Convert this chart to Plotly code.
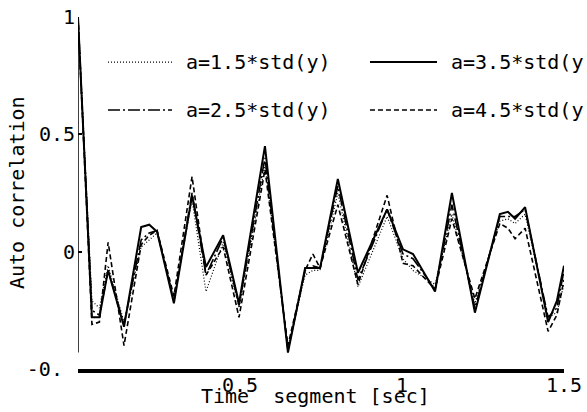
import plotly.graph_objects as go

# time lags [sec]
t = [0, 0.043, 0.066, 0.093, 0.142, 0.195, 0.22, 0.244, 0.296, 0.352, 0.395, 0.448,
     0.497, 0.577, 0.648, 0.701, 0.725, 0.747, 0.802, 0.864, 0.954, 1.003, 1.034,
     1.102, 1.154, 1.225, 1.302, 1.327, 1.349, 1.380, 1.451, 1.478, 1.5]

ac_15 = [1.0, -0.21, -0.24, -0.06, -0.30, 0.02, 0.05, 0.08, -0.20, 0.22, -0.17, 0.04,
         -0.24, 0.37, -0.41, -0.10, -0.08, -0.08, 0.25, -0.15, 0.15, -0.03, -0.08,
         -0.14, 0.16, -0.22, 0.13, 0.14, 0.12, 0.16, -0.28, -0.26, -0.14]
ac_25 = [1.0, -0.25, -0.27, -0.08, -0.31, 0.05, 0.08, 0.09, -0.21, 0.25, -0.10, 0.06,
         -0.23, 0.40, -0.42, -0.08, -0.06, -0.07, 0.28, -0.12, 0.18, -0.01, -0.03,
         -0.16, 0.20, -0.24, 0.15, 0.15, 0.15, 0.18, -0.28, -0.24, -0.08]
ac_35 = [1.0, -0.28, -0.28, -0.08, -0.32, 0.105, 0.115, 0.085, -0.22, 0.24, -0.065, 0.07,
         -0.22, 0.45, -0.43, -0.07, -0.07, -0.07, 0.31, -0.09, 0.18, 0.01, -0.01,
         -0.17, 0.25, -0.26, 0.16, 0.17, 0.14, 0.19, -0.30, -0.21, -0.06]
ac_45 = [1.0, -0.31, -0.30, 0.04, -0.40, 0.03, 0.07, 0.09, -0.19, 0.32, -0.10, 0.02,
         -0.28, 0.35, -0.40, -0.08, -0.01, -0.07, 0.20, -0.14, 0.24, -0.05, -0.06,
         -0.16, 0.14, -0.20, 0.12, 0.10, 0.055, 0.10, -0.34, -0.27, -0.12]

names = ["a=1.5*std(y)", "a=2.5*std(y)", "a=3.5*std(y)", "a=4.5*std(y)"]
series = [ac_15, ac_25, ac_35, ac_45]
dashes = ["1px,2px", "12px,3px,2px,3px", "solid", "5px,3px"]
widths = [1.2, 1.6, 2.0, 1.6]

yticks = [-0.5, 0, 0.5, 1]
yticktext = ["-0.<span style='color:white'>5</span>", "0", "0.5", "1"]
xticks = [0.5, 1, 1.5]
xticktext = ["0.5", "1", "1.5"]

FONT = "DejaVu Sans Mono"
FS = 20

fig = go.Figure()
for name, ys, d, w in zip(names, series, dashes, widths):
    fig.add_trace(go.Scatter(x=t, y=ys, mode="lines", name=name,
                             line=dict(color="black", width=w, dash=d),
                             showlegend=False, cliponaxis=False))

# y-axis line (stops short of the x axis as in the original)
fig.add_shape(type="line", xref="x", yref="y", x0=0, x1=0, y0=1, y1=-0.43,
              line=dict(color="black", width=1.5))

# manual 2x2 legend
leg_rows = [0.872, 0.736]
leg_cols = [(0.0617, 0.1934, 0.2180), (0.6008, 0.7387, 0.7633)]
order = [(0, 0, 0), (1, 1, 0), (2, 0, 1), (3, 1, 1)]
for idx, r, c in order:
    x0, x1, xt = leg_cols[c]
    y = leg_rows[r]
    fig.add_shape(type="line", xref="paper", yref="paper", x0=x0, x1=x1, y0=y, y1=y,
                  line=dict(color="black", width=widths[idx], dash=dashes[idx]))
    fig.add_annotation(xref="paper", yref="paper", x=xt, y=y, text=names[idx],
                       showarrow=False, xanchor="left", yanchor="middle",
                       font=dict(family=FONT, size=FS, color="black"))

fig.add_annotation(xref="paper", yref="paper", x=0.488, y=-0.077,
                   text="Time  segment [sec]", showarrow=False,
                   xanchor="center", yanchor="middle",
                   font=dict(family=FONT, size=FS, color="black"))
fig.add_annotation(xref="paper", yref="paper", x=-0.1255, y=0.5,
                   text="Auto correlation", showarrow=False, textangle=-90,
                   xanchor="center", yanchor="middle",
                   font=dict(family=FONT, size=FS, color="black"))

fig.update_layout(
    width=587, height=412,
    margin=dict(l=78, r=23, t=17, b=43, autoexpand=False),
    paper_bgcolor="white", plot_bgcolor="white",
    font=dict(family=FONT, size=FS, color="black"),
    xaxis=dict(range=[0, 1.5], showgrid=False, zeroline=False, automargin=False,
               showline=True, linecolor="black", linewidth=4,
               tickvals=xticks, ticktext=xticktext, ticks="",
               ticklabelstandoff=-5, ticklabeloverflow="allow"),
    yaxis=dict(range=[-0.5, 1], showgrid=False, zeroline=False, automargin=False,
               showline=False, tickvals=yticks, ticktext=yticktext,
               ticks="inside", ticklen=4, tickcolor="black", tickwidth=1.5,
               ticklabelstandoff=2, ticklabeloverflow="allow"),
)

# remove the default 8px page margin so the figure fills the window exactly
fig.write_html("out.html", config={"displayModeBar": False},
               post_script="document.body.style.margin='0';document.body.style.overflow='hidden';")
